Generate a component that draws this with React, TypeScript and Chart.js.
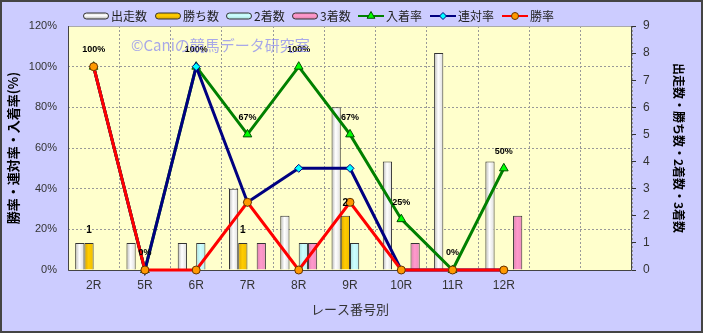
import React, { useEffect, useRef } from "react";
import { Chart, registerables } from "chart.js";

Chart.register(...registerables);

// ---- data ----
const categories = ["2R", "5R", "6R", "7R", "8R", "9R", "10R", "11R", "12R", "", ""];
const seriesNames = ["出走数", "勝ち数", "2着数", "3着数", "入着率", "連対率", "勝率"];
const starters = [1, 1, 1, 3, 2, 6, 4, 8, 4];
const wins = [1, 0, 0, 1, 0, 2, 0, 0, 0];
const seconds = [0, 0, 1, 0, 1, 1, 0, 0, 0];
const thirds = [0, 0, 0, 1, 1, 0, 1, 0, 2];
const placeRate = [100, 0, 100, 66.7, 100, 66.7, 25, 0, 50];
const quinellaRate = [100, 0, 100, 33.3, 50, 50, 0, 0, 0];
const winRate = [100, 0, 0, 33.3, 0, 33.3, 0, 0, 0];
const percentTicks = [0, 20, 40, 60, 80, 100, 120];
const countTicks = [0, 1, 2, 3, 4, 5, 6, 7, 8, 9];

const leftTitle = "勝率・連対率・入着率(%)";
const rightTitle = "出走数・勝ち数・2着数・3着数";
const xTitle = "レース番号別";
const watermark = "©Caniの競馬データ研究室";

const NUM_FONT = "'Liberation Sans', 'Noto Sans CJK JP', sans-serif";
const JP_FONT = "'Noto Sans CJK JP', 'Liberation Sans', sans-serif";

const barStops: string[][] = [
  ["#b8b8b8", "#ffffff", "#dcdcdc"],
  ["#d9a400", "#ffcc00", "#efbd00"],
  ["#a8dede", "#ccffff", "#bcf0f0"],
  ["#dd82ae", "#ff99cc", "#ee8ebe"],
];

const lineStyles = [
  { color: "#008000", point: "triangle", fill: "#00ff00", border: "#005000", r: 5 },
  { color: "#000080", point: "rectRot", fill: "#00ffff", border: "#000080", r: 4 },
  { color: "#ff0000", point: "circle", fill: "#ff9900", border: "#663300", r: 4 },
];

const legendX = [83, 155, 226, 292, 358, 430, 502];

function drawMarker(ctx: CanvasRenderingContext2D, kind: string, x: number, y: number, r: number) {
  ctx.beginPath();
  if (kind === "circle") {
    ctx.arc(x, y, r, 0, Math.PI * 2);
  } else if (kind === "rectRot") {
    ctx.moveTo(x, y - r);
    ctx.lineTo(x + r, y);
    ctx.lineTo(x, y + r);
    ctx.lineTo(x - r, y);
    ctx.closePath();
  } else {
    const a = -Math.PI / 2;
    for (let k = 0; k < 3; k++) {
      const ang = a + (k * 2 * Math.PI) / 3;
      const px = x + Math.cos(ang) * r;
      const py = y + Math.sin(ang) * r;
      if (k === 0) ctx.moveTo(px, py);
      else ctx.lineTo(px, py);
    }
    ctx.closePath();
  }
  ctx.fill();
  ctx.stroke();
}

export default function App() {
  const ref = useRef<HTMLCanvasElement>(null);

  useEffect(() => {
    document.body.style.margin = "0";
    const canvas = ref.current!;
    const barData = [starters, wins, seconds, thirds];
    const lineData = [placeRate, quinellaRate, winRate];

    const datasets: any[] = [];
    barData.forEach((d, i) => {
      datasets.push({
        type: "bar",
        label: seriesNames[i],
        data: d,
        yAxisID: "y1",
        backgroundColor: barStops[i][1],
        borderColor: "#333333",
        borderWidth: 1,
        categoryPercentage: 0.72,
        barPercentage: 1,
        order: 10,
      });
    });
    lineData.forEach((d, i) => {
      const s = lineStyles[i];
      datasets.push({
        type: "line",
        label: seriesNames[4 + i],
        data: d,
        yAxisID: "y",
        borderColor: s.color,
        borderWidth: 3,
        tension: 0,
        fill: false,
        pointStyle: s.point,
        pointRadius: s.r,
        pointBackgroundColor: s.fill,
        pointBorderColor: s.border,
        pointBorderWidth: 1,
        clip: false,
        order: 3 - i,
      });
    });

    const bgPlugin = {
      id: "bg",
      beforeDraw(chart: any) {
        const { ctx, chartArea: a } = chart;
        ctx.save();
        ctx.fillStyle = "#ccccff";
        ctx.fillRect(0, 0, chart.width, chart.height);
        ctx.fillStyle = "#ffffcc";
        ctx.fillRect(a.left, a.top, a.right - a.left, a.bottom - a.top);
        ctx.restore();
      },
      beforeDatasetsDraw(chart: any) {
        const { ctx, chartArea: a } = chart;
        ctx.save();
        ctx.lineWidth = 1;
        ctx.strokeStyle = "#aaaaaa";
        ctx.beginPath();
        ctx.moveTo(a.left, a.top + 0.5);
        ctx.lineTo(a.right, a.top + 0.5);
        ctx.stroke();
        ctx.strokeStyle = "#444444";
        ctx.beginPath();
        ctx.moveTo(a.left + 0.5, a.top);
        ctx.lineTo(a.left + 0.5, a.bottom + 0.5);
        ctx.lineTo(a.right - 0.5, a.bottom + 0.5);
        ctx.lineTo(a.right - 0.5, a.top);
        ctx.stroke();
        ctx.restore();
      },
      beforeDatasetDraw(chart: any, args: any) {
        const meta = args.meta;
        if (meta.type !== "bar") return;
        const stops = barStops[args.index];
        const ctx = chart.ctx;
        meta.data.forEach((el: any) => {
          if (!el.width) return;
          const x0 = el.x - el.width / 2;
          const g = ctx.createLinearGradient(x0, 0, x0 + el.width, 0);
          g.addColorStop(0, stops[0]);
          g.addColorStop(0.45, stops[1]);
          g.addColorStop(1, stops[2]);
          el.options = Object.assign({}, el.options, { backgroundColor: g });
        });
      },
      afterDraw(chart: any) {
        const ctx: CanvasRenderingContext2D = chart.ctx;
        ctx.save();
        // data labels: 入着率
        const pm = chart.getDatasetMeta(4);
        ctx.fillStyle = "#000000";
        ctx.textAlign = "center";
        ctx.textBaseline = "middle";
        ctx.font = `bold 9px ${NUM_FONT}`;
        pm.data.forEach((el: any, i: number) => {
          ctx.fillText(Math.round(placeRate[i]) + "%", el.x, el.y - 17);
        });
        // data labels: 勝ち数
        const wm = chart.getDatasetMeta(1);
        ctx.font = `bold 10px ${NUM_FONT}`;
        wm.data.forEach((el: any, i: number) => {
          if (!wins[i]) return;
          ctx.fillText(String(wins[i]), el.x, el.y - 13);
        });
        // watermark
        ctx.textAlign = "left";
        ctx.font = `15px ${JP_FONT}`;
        ctx.fillStyle = "rgba(110,110,250,0.6)";
        ctx.fillText(watermark, 131, 45);
        // legend
        const ly = 16;
        for (let i = 0; i < 7; i++) {
          const x = legendX[i];
          ctx.lineWidth = 1;
          if (i < 4) {
            const st = barStops[i];
            const g = ctx.createLinearGradient(0, ly - 3, 0, ly + 3);
            g.addColorStop(0, st[2]);
            g.addColorStop(0.45, st[1]);
            g.addColorStop(1, st[0]);
            ctx.fillStyle = g;
            ctx.strokeStyle = "#333333";
            ctx.beginPath();
            (ctx as any).roundRect(x + 0.5, ly - 3, 25, 6, 3);
            ctx.fill();
            ctx.stroke();
          } else {
            const s = lineStyles[i - 4];
            ctx.strokeStyle = s.color;
            ctx.lineWidth = 2;
            ctx.beginPath();
            ctx.moveTo(x, ly);
            ctx.lineTo(x + 26, ly);
            ctx.stroke();
            ctx.lineWidth = 1;
            ctx.fillStyle = s.fill;
            ctx.strokeStyle = s.border;
            drawMarker(ctx, s.point, x + 13, ly, s.r - 0.5);
          }
          ctx.fillStyle = "#222222";
          ctx.font = `12px ${JP_FONT}`;
          ctx.textAlign = "left";
          ctx.textBaseline = "middle";
          ctx.fillText(seriesNames[i], x + 28, ly);
        }
        // outer border
        ctx.strokeStyle = "#444444";
        ctx.lineWidth = 2;
        ctx.strokeRect(1, 1, chart.width - 2, chart.height - 2);
        ctx.restore();
      },
    };

    const chart = new Chart(canvas, {
      type: "bar",
      data: { labels: categories, datasets },
      options: {
        animation: false,
        responsive: false,
        devicePixelRatio: 1,
        events: [],
        layout: { padding: { top: 26, left: 0, right: 0, bottom: 0 } },
        plugins: { legend: { display: false }, tooltip: { enabled: false } },
        scales: {
          x: {
            type: "category",
            offset: true,
            grid: { offset: true, color: "#999999", drawTicks: false, lineWidth: 1 },
            border: { display: false, dash: [2, 2] },
            ticks: {
              color: "#333333",
              font: { family: NUM_FONT, size: 12 },
              padding: 8,
              autoSkip: false,
              maxRotation: 0,
            },
            title: {
              display: true,
              text: xTitle,
              color: "#333333",
              font: { family: JP_FONT, size: 13 },
              padding: { top: 0, bottom: 16 },
            },
            afterFit: (s: any) => {
              s.height = 63;
            },
          },
          y: {
            position: "left",
            min: percentTicks[0],
            max: percentTicks[percentTicks.length - 1],
            grid: { color: "#999999", drawTicks: false, lineWidth: 1 },
            border: { display: false, dash: [2, 2] },
            ticks: {
              stepSize: percentTicks[1] - percentTicks[0],
              color: "#333333",
              font: { family: NUM_FONT, size: 11 },
              padding: 11,
              callback: (v: any) => v + "%",
            },
            title: {
              display: true,
              text: leftTitle,
              color: "#000000",
              font: { family: JP_FONT, size: 13, weight: "bold" },
              padding: { top: 5, bottom: 0 },
            },
            afterFit: (s: any) => {
              s.width = 68;
            },
          },
          y1: {
            position: "right",
            min: countTicks[0],
            max: countTicks[countTicks.length - 1],
            grid: {
              drawOnChartArea: false,
              drawTicks: true,
              tickLength: 4,
              tickColor: "#333333",
              color: "#333333",
            },
            border: { display: false },
            ticks: {
              stepSize: countTicks[1] - countTicks[0],
              color: "#333333",
              font: { family: NUM_FONT, size: 12 },
              padding: 7,
            },
            title: {
              display: true,
              text: rightTitle,
              color: "#000000",
              font: { family: JP_FONT, size: 12, weight: "bold" },
              padding: { top: 17, bottom: 0 },
            },
            afterFit: (s: any) => {
              s.width = 71;
            },
          },
        },
      } as any,
      plugins: [bgPlugin],
    });

    return () => chart.destroy();
  }, []);

  return (
    <div style={{ width: 703, height: 333 }}>
      <canvas ref={ref} width={703} height={333} style={{ display: "block" }} />
    </div>
  );
}
